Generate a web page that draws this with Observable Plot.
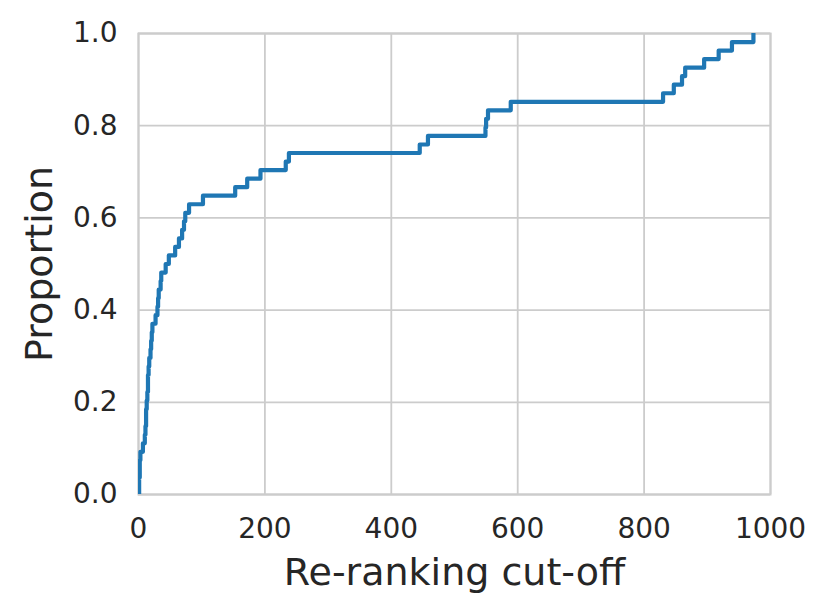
<!DOCTYPE html>
<html><head><meta charset="utf-8">
<script src="https://cdn.jsdelivr.net/npm/d3@7"></script>
<script src="https://cdn.jsdelivr.net/npm/@observablehq/plot@0.6"></script>
<style>body{margin:0;background:#fff} svg{font-family:"DejaVu Sans"}</style>
</head><body><div id="chart"></div>
<script>
// Re-ranking cut-off values (one per query)
const cutoffs = [1, 1, 2, 2, 3, 7, 10, 11, 12, 12, 13, 14, 15, 15, 16, 17, 19, 20, 21, 22,
  27, 30, 31, 32, 35, 36, 43, 48, 58, 64, 69, 72, 74, 80, 102, 153, 172, 193, 233, 238,
  445, 458, 549, 550, 553, 589, 830, 847, 860, 865, 895, 918, 939, 973];
const xTicks = [0, 200, 400, 600, 800, 1000];
const yTicks = [0, 0.2, 0.4, 0.6, 0.8, 1.0];
const xLabel = "Re-ranking cut-off";
const yLabel = "Proportion";

const sorted = cutoffs.slice().sort(d3.ascending);
const n = sorted.length;
const ecdf = [{x: sorted[0], p: 0}, ...sorted.map((v, i) => ({x: v, p: (i + 1) / n}))];

const chart = Plot.plot({
  width: 829, height: 614,
  marginLeft: 138, marginRight: 59, marginTop: 33, marginBottom: 120,
  style: {fontFamily: "DejaVu Sans", fontSize: "28px", color: "#262626", background: "#fff", overflow: "visible"},
  x: {domain: [0, 1000]},
  y: {domain: [0, 1]},
  marks: [
    Plot.gridX(xTicks, {stroke: "#cccccc", strokeOpacity: 1, strokeWidth: 1.8}),
    Plot.gridY(yTicks, {stroke: "#cccccc", strokeOpacity: 1, strokeWidth: 1.8}),
    Plot.frame({stroke: "#cccccc", strokeWidth: 2}),
    Plot.line(ecdf, {x: "x", y: "p", curve: "step-after", stroke: "#1f77b4", strokeWidth: 4.2, clip: true}),
    Plot.axisX(xTicks, {tickSize: 0, tickPadding: 24, label: null, fontSize: 28, fill: "#262626", tickFormat: d3.format("d")}),
    Plot.axisY(yTicks, {tickSize: 0, tickPadding: 21, label: null, fontSize: 28, fill: "#262626", tickFormat: d3.format(".1f")}),
    Plot.text([xLabel], {frameAnchor: "bottom", dy: 90, lineAnchor: "bottom", textAnchor: "middle", fontSize: 38, fill: "#262626"}),
    Plot.text([yLabel], {frameAnchor: "left", dx: -86.5, rotate: -90, lineAnchor: "bottom", textAnchor: "middle", fontSize: 38, fill: "#262626"})
  ]
});
document.getElementById("chart").appendChild(chart);
</script>
</body></html>
